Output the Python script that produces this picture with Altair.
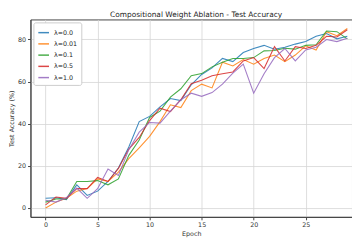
import altair as alt
import pandas as pd

epochs = list(range(30))
labels = ["λ=0.0", "λ=0.01", "λ=0.1", "λ=0.5", "λ=1.0"]
colors = ["#1f77b4", "#ff7f0e", "#2ca02c", "#d62728", "#9467bd"]

acc_00 = [4.6, 4.9, 4.0, 11.0, 6.0, 8.0, 12.6, 19.0, 29.0, 41.0,
          43.5, 48.0, 52.0, 51.0, 58.5, 63.4, 66.5, 71.0, 69.5, 73.8,
          75.7, 77.2, 75.4, 76.3, 77.8, 79.0, 81.5, 82.8, 80.3, 81.5]
acc_001 = [0.0, 2.8, 4.6, 8.0, 9.2, 13.8, 12.6, 17.0, 23.4, 28.6,
           34.0, 41.0, 49.0, 47.7, 55.7, 58.8, 57.0, 69.2, 67.4, 70.5,
           68.3, 71.0, 72.6, 69.5, 72.6, 77.0, 75.0, 83.7, 81.8, 85.2]
acc_01 = [2.8, 4.3, 4.3, 12.6, 12.6, 13.0, 11.0, 13.8, 25.0, 32.3,
          43.0, 46.0, 52.6, 56.6, 62.8, 63.8, 67.0, 69.2, 71.0, 71.0,
          71.4, 74.6, 74.8, 75.8, 75.4, 77.2, 77.5, 84.0, 83.7, 80.3]
acc_05 = [1.5, 5.2, 4.6, 9.2, 9.2, 14.5, 12.6, 18.8, 28.0, 33.5,
          41.5, 47.4, 45.8, 51.4, 59.0, 60.6, 62.8, 63.7, 64.6, 69.8,
          71.4, 66.2, 76.6, 69.8, 76.6, 75.7, 77.2, 81.5, 81.2, 84.6]
acc_10 = [3.7, 2.8, 4.9, 9.5, 4.6, 9.2, 18.5, 15.4, 27.7, 36.0,
          40.6, 40.3, 46.0, 51.4, 54.5, 53.0, 54.8, 58.8, 64.0, 68.3,
          54.5, 63.7, 71.4, 75.7, 69.8, 75.0, 76.3, 80.0, 79.0, 80.6]

series = [acc_00, acc_001, acc_01, acc_05, acc_10]
rows = []
for lab, vals in zip(labels, series):
    for e, v in zip(epochs, vals):
        rows.append({"Epoch": e, "Acc": v, "Series": lab})
df = pd.DataFrame(rows)

font = "DejaVu Sans"

chart = alt.Chart(df).mark_line(strokeWidth=1.1, opacity=0.85, clip=True).encode(
    x=alt.X("Epoch:Q", scale=alt.Scale(domain=[-1.45, 29.45], nice=False, zero=False),
            axis=alt.Axis(values=[0, 5, 10, 15, 20, 25], title="Epoch")),
    y=alt.Y("Acc:Q", scale=alt.Scale(domain=[-4.2, 89.5], nice=False, zero=False),
            axis=alt.Axis(values=[0, 20, 40, 60, 80], title="Test Accuracy (%)")),
    color=alt.Color("Series:N", sort=labels,
                    scale=alt.Scale(domain=labels, range=colors),
                    legend=alt.Legend(title=None, orient="none", legendX=3, legendY=3,
                                      symbolType="stroke", symbolStrokeWidth=1.5,
                                      symbolSize=120, labelFontSize=6.5, labelFont=font,
                                      fillColor="white", strokeColor="#cccccc",
                                      padding=4, rowPadding=1.5, cornerRadius=2,
                                      labelColor="#222222")),
    detail="Series:N",
).properties(
    width=329, height=202,
    title=alt.TitleParams("Compositional Weight Ablation - Test Accuracy",
                          fontSize=7.6, font=font, fontWeight="normal",
                          color="#222222", offset=1, dx=5),
    autosize=alt.AutoSizeParams(type="none"),
    padding={"left": 23, "top": 9, "right": 0, "bottom": 23},
).configure_view(
    stroke="#444444", strokeWidth=1
).configure_axis(
    labelFont=font, titleFont=font, labelFontSize=6.5, titleFontSize=6.5,
    titleFontWeight="normal", labelColor="#333333", titleColor="#333333",
    gridColor="#d5d5d5", gridWidth=0.8, domainColor="#444444",
    tickColor="#444444", tickSize=3, labelPadding=2, titlePadding=3,
)

chart.save("out.html", embed_options={"renderer": "svg", "actions": False})
